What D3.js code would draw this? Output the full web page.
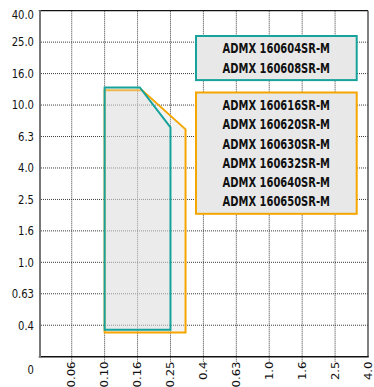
<!DOCTYPE html>
<html>
<head>
<meta charset="utf-8">
<script src="https://cdn.jsdelivr.net/npm/d3@7"></script>
<style>
  html, body { margin: 0; padding: 0; background: #fff; }
  svg { display: block; }
  text { font-family: "Liberation Sans Narrow", "DejaVu Sans Condensed", "Arial Narrow", sans-serif; }
</style>
</head>
<body>
<div id="chart"></div>
<script>
// ---- data ----
const xTicks = [0.06, 0.10, 0.16, 0.25, 0.4, 0.63, 1.0, 1.6, 2.5, 4.0];
const xTickLabels = ["0.06", "0.10", "0.16", "0.25", "0.4", "0.63", "1.0", "1.6", "2.5", "4.0"];
const yTicks = [0.4, 0.63, 1.0, 1.6, 2.5, 4.0, 6.3, 10, 16, 25, 40];
const yTickLabels = ["0.4", "0.63", "1.0", "1.6", "2.5", "4.0", "6.3", "10.0", "16.0", "25.0", "40.0"];
const zeroLabel = "0";

// application areas (feed x, depth of cut y)
const tealX = [0.10, 0.165, 0.25, 0.25, 0.10];
const tealY = [13, 13, 7.2, 0.375, 0.375];
const orangeX = [0.10, 0.17, 0.31, 0.31, 0.10];
const orangeY = [12.5, 12.5, 7.0, 0.36, 0.36];

const tealNames = ["ADMX 160604SR-M", "ADMX 160608SR-M"];
const orangeNames = ["ADMX 160616SR-M", "ADMX 160620SR-M", "ADMX 160630SR-M",
                     "ADMX 160632SR-M", "ADMX 160640SR-M", "ADMX 160650SR-M"];

// ---- layout ----
const W = 374, H = 387;
const L = 38.8, R = 368, T = 10.7, B = 356.7;
const xStep = (R - L) / xTicks.length;
const yStep = (B - T) / yTicks.length;
const TEAL = "#17a39b", ORANGE = "#f6a600";
const TICK_SX = 0.86, LEG_SX = 0.79;

const x = d3.scaleLog().domain(xTicks).range(xTicks.map((d, i) => L + (i + 1) * xStep));
const y = d3.scaleLog().domain(yTicks).range(yTicks.map((d, i) => B - (i + 1) * yStep));

const svg = d3.select("#chart").append("svg").attr("width", W).attr("height", H);

// gridlines
const grid = svg.append("g").attr("stroke", "#3a3a3a").attr("stroke-width", 1).attr("stroke-dasharray", "1,1");
grid.selectAll("line.h").data(yTicks.slice(0, -1)).join("line")
  .attr("x1", 41).attr("x2", R).attr("y1", d => y(d)).attr("y2", d => y(d));
grid.selectAll("line.v").data(xTicks.slice(0, -1)).join("line")
  .attr("x1", d => x(d)).attr("x2", d => x(d)).attr("y1", T).attr("y2", B + 6);

// polygons
const line = d3.line();
function poly(xs, ys, color) {
  const pts = xs.map((d, i) => [x(d), y(ys[i])]);
  svg.append("path").attr("d", line(pts) + "Z")
    .attr("fill", "#dcdcdc").attr("fill-opacity", 0.35)
    .attr("stroke", color).attr("stroke-width", 2).attr("stroke-linejoin", "miter");
}
poly(orangeX, orangeY, ORANGE);
poly(tealX, tealY, TEAL);

// frame
svg.append("line").attr("x1", L).attr("x2", R).attr("y1", T).attr("y2", T)
  .attr("stroke", "#111").attr("stroke-width", 1.2);
svg.append("line").attr("x1", R).attr("x2", R).attr("y1", T).attr("y2", B)
  .attr("stroke", "#555").attr("stroke-width", 1.5);
svg.append("line").attr("x1", L).attr("x2", R + 0.7).attr("y1", B).attr("y2", B)
  .attr("stroke", "#111").attr("stroke-width", 1.5);
svg.append("line").attr("x1", 40).attr("x2", 40).attr("y1", T - 0.5).attr("y2", B + 0.7)
  .attr("stroke", "#777").attr("stroke-width", 2);

// y labels
svg.append("g").selectAll("text").data(yTicks).join("text")
  .attr("transform", d => `translate(34,${Math.max(y(d), 14.3)}) scale(${TICK_SX},1)`)
  .attr("text-anchor", "end").attr("dominant-baseline", "central")
  .attr("font-size", 13).attr("fill", "#111")
  .text((d, i) => yTickLabels[i]);
svg.append("text").attr("transform", `translate(34,${B + 13.5}) scale(${TICK_SX},1)`)
  .attr("text-anchor", "end").attr("dominant-baseline", "central")
  .attr("font-size", 13).attr("fill", "#111").text(zeroLabel);

// x labels
svg.append("g").selectAll("text").data(xTicks).join("text")
  .attr("transform", d => `translate(${x(d)},${B + 4.8}) rotate(-90) scale(1,${TICK_SX})`)
  .attr("text-anchor", "end").attr("dominant-baseline", "central")
  .attr("font-size", 13).attr("fill", "#111")
  .text((d, i) => xTickLabels[i]);

// legend boxes
function legendBox(names, color, top) {
  const h = 12.5 + (names.length - 1) * 19.3 + 12.3;
  svg.append("rect").attr("x", 196).attr("y", top).attr("width", 160.7).attr("height", h)
    .attr("fill", "#e8e8e8").attr("stroke", color).attr("stroke-width", 2);
  svg.append("g").selectAll("text").data(names).join("text")
    .attr("transform", (d, i) => `translate(276.3,${top + 12.5 + i * 19.3}) scale(${LEG_SX},1)`)
    .attr("text-anchor", "middle").attr("dominant-baseline", "central")
    .attr("font-size", 14).attr("font-weight", "bold").attr("fill", "#111")
    .text(d => d);
}
legendBox(tealNames, TEAL, 36);
legendBox(orangeNames, ORANGE, 92.5);
</script>
</body>
</html>
